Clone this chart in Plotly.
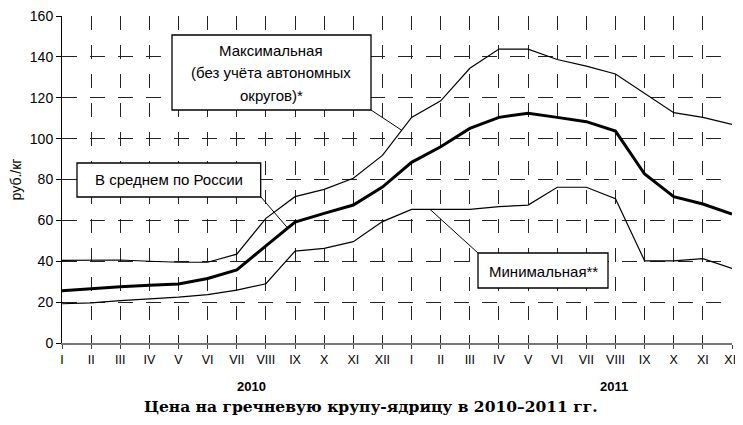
import numpy as np
import plotly.graph_objects as go

# ---- data ----
month_labels = ["I", "II", "III", "IV", "V", "VI", "VII", "VIII", "IX", "X", "XI", "XII"] * 2
avg_price = [25.6, 26.7, 27.5, 28.2, 28.9, 31.6, 35.8, 47.5, 59.2, 63.4, 67.5, 76.3,
             88.4, 96.0, 105.0, 110.4, 112.4, 110.4, 108.3, 103.7, 82.7, 71.6, 68.0, 63.1]
max_price = [40.4, 40.6, 40.6, 40.0, 39.5, 39.5, 43.5, 61.0, 71.6, 75.2, 80.6, 91.8,
             110.4, 118.5, 134.4, 143.8, 143.8, 138.7, 135.5, 131.6, 122.2, 112.7, 110.4, 107.0]
min_price = [19.2, 19.6, 20.7, 21.4, 22.4, 23.7, 25.9, 29.0, 45.0, 46.3, 49.6, 59.4,
             65.4, 65.4, 65.4, 66.7, 67.5, 76.2, 76.2, 70.6, 40.2, 40.2, 41.3, 36.5]
year_labels = ["2010", "2011"]
y_ticks = list(range(0, 161, 20))
title_text = "Цена на гречневую крупу-ядрицу в 2010\u20132011 гг."

x = list(range(len(month_labels)))

# window geometry (page body has an 8px default margin)
OFF = 8
W, H = 743, 425
L, R, T, B = 62, 11, 16, 82
PW, PH = W - L - R, H - T - B


def px(xp):
    return (xp - L) / PW


def py(yp):
    return (H - B - yp) / PH


def x_of_px(xp):
    return (xp - L) / PW * (len(x) - 1)


fig = go.Figure()
for series, w in ((max_price, 1.2), (min_price, 1.2), (avg_price, 3)):
    fig.add_trace(go.Scatter(x=x, y=series, mode="lines",
                             line=dict(color="black", width=w), showlegend=False,
                             hoverinfo="skip"))

FONT = "Liberation Sans, Arial, sans-serif"
shapes = []
annotations = []


def box(x0, y0, x1, y1):
    shapes.append(dict(type="rect", xref="paper", yref="paper",
                       x0=px(x0), x1=px(x1), y0=py(y1), y1=py(y0),
                       line=dict(color="black", width=1.3), fillcolor="white",
                       layer="above"))


def callout(x0, y0, series, xp_end):
    xe = x_of_px(xp_end)
    ye = float(np.interp(xe, x, series))
    shapes.append(dict(type="line", xref="paper", yref="paper",
                       x0=px(x0), y0=py(y0),
                       x1=xe / (len(x) - 1), y1=ye / 160.0,
                       line=dict(color="black", width=1), layer="above"))


def text(s, xc, yc, size=15, font=FONT, bold=False):
    annotations.append(dict(text=("<b>%s</b>" % s) if bold else s,
                            xref="paper", yref="paper",
                            x=px(xc), y=py(yc), xanchor="center", yanchor="middle",
                            showarrow=False, font=dict(family=font, size=size, color="black")))


# Max box
callout(371, 110, max_price, 401.7)
box(172, 35, 371, 110)
text("Максимальная", 271, 51)
text("(без учёта автономных", 271, 73)
text("округов)*", 271, 95)

# Average box
callout(260.7, 196.7, avg_price, 287.7)
box(77, 163, 260.7, 197)
text("В среднем по России", 169, 180)

# Min box
callout(478, 253, min_price, 430)
box(478, 253, 608, 288)
text("Минимальная**", 543, 271)

# year labels
text(year_labels[0], 251, 386, size=13, bold=True)
text(year_labels[1], 614, 386, size=13, bold=True)

# title
text(title_text, 371, 406, size=15.5, font="DejaVu Serif, Liberation Serif, serif", bold=True)

fig.update_layout(
    width=W - OFF, height=H - 2 * OFF,
    margin=dict(l=L - OFF, r=R, t=T - OFF, b=B - OFF, autoexpand=False),
    paper_bgcolor="white", plot_bgcolor="white",
    shapes=shapes, annotations=annotations,
    xaxis=dict(range=[0, len(x) - 1], tickmode="array", tickvals=x, ticktext=month_labels,
               showgrid=True, gridcolor="#222", gridwidth=1, griddash="14px,15px",
               showline=True, linecolor="#777", linewidth=1.5,
               ticks="outside", ticklen=4, tickcolor="#444",
               ticklabeloverflow="allow",
               tickfont=dict(family="Liberation Sans Narrow, Arial Narrow, Liberation Sans, Arial",
                             size=12.5, color="black"),
               zeroline=False, fixedrange=True),
    yaxis=dict(range=[0, 160], tickmode="array", tickvals=y_ticks,
               showgrid=True, gridcolor="#222", gridwidth=1, griddash="15px,13px",
               showline=True, linecolor="black", linewidth=1,
               ticks="outside", ticklen=5, tickcolor="black",
               ticklabeloverflow="allow",
               tickfont=dict(family=FONT, size=14, color="black"),
               title=dict(text="руб./кг", font=dict(family=FONT, size=14, color="black"), standoff=6),
               zeroline=False, fixedrange=True),
)

fig.write_html("out.html")
